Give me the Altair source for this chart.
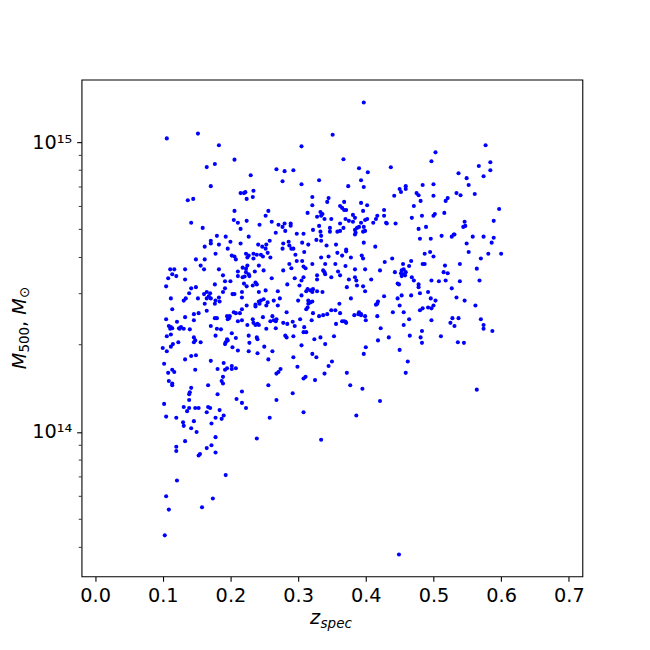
import altair as alt
import pandas as pd

# (z_spec, M500 in units of 1e14 solar masses)
pts_top_a = [(0.106,10.3),(0.152,10.7),(0.183,9.75),(0.206,8.7),(0.177,8.4),(0.165,8.2),(0.171,7.05),(0.215,6.67),(0.220,6.67),(0.137,6.3),(0.145,6.37),(0.206,5.79),(0.205,5.39),(0.211,5.27),(0.215,5.02),(0.142,5.27),(0.159,5.06),(0.180,4.75),(0.193,4.72),(0.171,4.57),(0.171,4.47),(0.200,4.53),(0.215,4.47),(0.162,4.36),(0.183,4.43),(0.196,4.29)]
pts_top_b = [(0.351,10.6),(0.305,9.67),(0.230,7.69),(0.268,8.06),(0.280,7.94),(0.293,8.0),(0.277,7.33),(0.331,7.39),(0.305,7.16),(0.222,6.72),(0.234,6.8),(0.224,6.37),(0.233,6.47),(0.321,6.47),(0.345,6.41),(0.343,6.22),(0.321,6.06),(0.256,5.79),(0.252,5.57),(0.314,5.7),(0.333,5.74),(0.328,5.53),(0.334,5.57),(0.339,5.43),(0.336,5.65),(0.349,5.43),(0.224,5.35),(0.261,5.31),(0.243,5.19),(0.271,5.19),(0.277,5.1),(0.280,5.24),(0.289,5.24),(0.289,5.15),(0.281,4.94),(0.267,4.87),(0.298,4.83),(0.308,4.83),(0.322,4.98),(0.331,5.14),(0.347,5.06),(0.347,4.91),(0.333,4.91),(0.334,4.75),(0.227,4.72),(0.334,4.57),(0.327,4.6),(0.286,4.53),(0.278,4.47),(0.287,4.4),(0.306,4.5),(0.315,4.43),(0.258,4.57),(0.253,4.43),(0.247,4.36),(0.241,4.43),(0.342,4.4),(0.252,4.29),(0.277,4.29),(0.290,4.29),(0.293,4.29)]
pts_top_c = [(0.397,13.7),(0.367,8.73),(0.437,8.19),(0.390,8.13),(0.403,7.87),(0.393,7.39),(0.374,7.05),(0.397,7.0),(0.442,6.53),(0.450,6.89),(0.452,6.73),(0.459,7.05),(0.459,6.89),(0.475,6.67),(0.478,6.56),(0.481,6.27),(0.484,7.11),(0.471,6.02),(0.368,6.22),(0.393,6.17),(0.402,6.06),(0.362,6.02),(0.365,5.93),(0.368,5.83),(0.371,5.83),(0.396,5.79),(0.427,5.83),(0.427,5.57),(0.417,5.57),(0.415,5.43),(0.381,5.61),(0.384,5.48),(0.402,5.43),(0.399,5.39),(0.370,5.43),(0.375,5.35),(0.381,5.31),(0.393,5.27),(0.390,5.1),(0.387,5.06),(0.384,4.98),(0.385,4.87),(0.384,4.8),(0.397,5.1),(0.399,4.94),(0.396,4.91),(0.411,5.27),(0.430,5.27),(0.431,5.24),(0.444,5.24),(0.468,5.48),(0.483,5.57),(0.362,5.24),(0.367,5.06),(0.362,4.94),(0.358,4.91),(0.478,5.02),(0.480,4.64),(0.356,4.43),(0.397,4.5),(0.414,4.36),(0.371,4.26)]
pts_top_d = [(0.577,9.75),(0.503,9.22),(0.497,8.59),(0.584,8.52),(0.567,8.27),(0.584,8.0),(0.574,7.63),(0.537,7.81),(0.549,7.51),(0.552,7.11),(0.500,7.16),(0.500,6.53),(0.534,6.67),(0.540,6.56),(0.561,6.62),(0.521,6.41),(0.518,6.27),(0.597,5.88),(0.516,5.7),(0.502,5.65),(0.500,5.57),(0.589,5.35),(0.546,5.31),(0.547,5.14),(0.544,5.1),(0.489,5.1),(0.496,4.64),(0.512,4.75),(0.527,4.72),(0.530,4.8),(0.531,4.8),(0.558,4.72),(0.574,4.72),(0.589,4.68),(0.586,4.5),(0.549,4.47),(0.495,4.18),(0.552,4.18)]
pts_mid_a = [(0.178,4.12),(0.202,4.06),(0.206,4.03),(0.208,3.94),(0.149,3.94),(0.162,3.94),(0.156,3.75),(0.161,3.64),(0.111,3.64),(0.117,3.64),(0.133,3.64),(0.183,3.64),(0.218,3.69),(0.114,3.50),(0.120,3.45),(0.108,3.39),(0.189,3.47),(0.211,3.58),(0.211,3.45),(0.133,3.36),(0.192,3.31),(0.200,3.31),(0.177,3.23),(0.218,3.42),(0.220,3.25),(0.105,3.18),(0.142,3.13),(0.149,3.16),(0.192,3.13),(0.189,3.04),(0.139,3.01),(0.134,2.89),(0.131,2.84),(0.152,2.89),(0.161,2.99),(0.165,3.04),(0.170,3.01),(0.168,2.94),(0.165,2.89),(0.171,2.89),(0.183,2.91),(0.178,2.84),(0.177,2.77),(0.184,2.82),(0.203,2.99),(0.206,2.99),(0.217,3.04),(0.217,2.91),(0.112,2.89),(0.162,2.77),(0.114,2.65),(0.217,2.65),(0.214,2.57),(0.205,2.59),(0.208,2.57),(0.146,2.55),(0.153,2.57),(0.165,2.62),(0.105,2.45),(0.133,2.49),(0.146,2.43),(0.177,2.47),(0.180,2.47),(0.195,2.51),(0.199,2.51),(0.196,2.45),(0.198,2.47),(0.217,2.43),(0.211,2.41),(0.121,2.40),(0.109,2.32),(0.112,2.30),(0.111,2.27),(0.114,2.28),(0.124,2.28),(0.127,2.30),(0.125,2.27),(0.131,2.27),(0.140,2.26),(0.171,2.32),(0.180,2.27),(0.186,2.26),(0.202,2.19),(0.106,2.14),(0.112,2.17),(0.146,2.12),(0.146,2.04),(0.148,2.07),(0.178,2.15),(0.196,2.07),(0.193,2.04),(0.192,2.01),(0.195,2.09),(0.208,2.11),(0.123,2.04),(0.115,2.01),(0.112,1.97),(0.156,2.04),(0.100,1.95),(0.106,1.90),(0.203,1.96),(0.211,1.91),(0.142,1.83),(0.149,1.84),(0.133,1.78),(0.102,1.72),(0.171,1.76),(0.190,1.73),(0.181,1.65),(0.192,1.64),(0.195,1.66),(0.202,1.69),(0.202,1.65),(0.208,1.66),(0.114,1.64),(0.117,1.61),(0.108,1.60),(0.148,1.64),(0.189,1.55),(0.109,1.50),(0.114,1.45),(0.114,1.47),(0.187,1.50),(0.189,1.47),(0.167,1.45),(0.142,1.42),(0.140,1.37),(0.139,1.35),(0.139,1.29),(0.181,1.35),(0.217,1.38),(0.209,1.30),(0.217,1.26),(0.102,1.25),(0.131,1.22),(0.139,1.21),(0.148,1.21),(0.153,1.21),(0.167,1.22),(0.170,1.21)]
pts_mid_b = [(0.223,4.12),(0.227,4.06),(0.225,4.00),(0.234,4.12),(0.239,4.09),(0.245,4.09),(0.248,4.03),(0.255,4.15),(0.259,4.00),(0.234,3.97),(0.296,4.09),(0.309,4.18),(0.334,4.00),(0.345,4.03),(0.225,3.75),(0.223,3.66),(0.223,3.56),(0.227,3.50),(0.228,3.45),(0.221,3.44),(0.242,3.75),(0.236,3.58),(0.249,3.61),(0.287,3.80),(0.298,3.89),(0.306,3.89),(0.308,3.72),(0.311,3.67),(0.321,3.80),(0.278,3.61),(0.290,3.67),(0.340,3.80),(0.339,3.56),(0.337,3.61),(0.340,3.50),(0.349,3.42),(0.328,3.47),(0.328,3.36),(0.261,3.39),(0.295,3.39),(0.305,3.33),(0.308,3.42),(0.224,3.18),(0.233,3.20),(0.237,3.28),(0.239,3.23),(0.284,3.23),(0.302,3.20),(0.242,3.04),(0.252,3.08),(0.270,3.06),(0.314,3.11),(0.312,3.06),(0.318,3.08),(0.322,3.11),(0.321,3.04),(0.328,3.06),(0.336,3.04),(0.305,2.96),(0.300,2.84),(0.315,2.84),(0.318,2.80),(0.315,2.77),(0.321,2.82),(0.242,2.82),(0.245,2.84),(0.249,2.87),(0.243,2.77),(0.237,2.75),(0.237,2.71),(0.255,2.80),(0.253,2.73),(0.264,2.84),(0.273,2.89),(0.224,2.73),(0.270,2.73),(0.312,2.65),(0.314,2.69),(0.283,2.59),(0.322,2.57),(0.331,2.51),(0.337,2.53),(0.343,2.55),(0.349,2.63),(0.248,2.49),(0.262,2.51),(0.259,2.41),(0.264,2.43),(0.268,2.45),(0.267,2.41),(0.233,2.45),(0.234,2.38),(0.240,2.36),(0.237,2.34),(0.242,2.34),(0.225,2.34),(0.278,2.38),(0.284,2.36),(0.292,2.40),(0.295,2.32),(0.303,2.45),(0.320,2.43),(0.253,2.27),(0.267,2.28),(0.309,2.30),(0.308,2.21),(0.312,2.21),(0.227,2.15),(0.239,2.12),(0.240,2.09),(0.228,2.03),(0.227,1.90),(0.240,1.87),(0.281,2.15),(0.283,2.12),(0.293,2.14),(0.324,2.09),(0.333,2.12),(0.340,2.01),(0.305,1.99),(0.250,1.97),(0.262,1.90),(0.293,1.81),(0.321,1.86),(0.327,1.81),(0.256,1.78),(0.299,1.68),(0.350,1.75),(0.345,1.69),(0.274,1.65),(0.271,1.61),(0.268,1.59),(0.339,1.59),(0.311,1.55),(0.308,1.53),(0.325,1.51),(0.256,1.45),(0.292,1.36),(0.268,1.29),(0.223,1.21)]
pts_mid_c = [(0.358,4.15),(0.365,4.06),(0.371,4.20),(0.378,4.00),(0.394,4.06),(0.396,3.97),(0.439,3.97),(0.428,3.86),(0.467,3.89),(0.464,3.74),(0.455,3.80),(0.484,3.80),(0.355,3.80),(0.370,3.74),(0.384,3.64),(0.399,3.64),(0.421,3.61),(0.443,3.56),(0.453,3.61),(0.456,3.64),(0.452,3.53),(0.455,3.50),(0.458,3.47),(0.453,3.45),(0.459,3.56),(0.359,3.58),(0.362,3.47),(0.384,3.42),(0.386,3.33),(0.375,3.36),(0.408,3.36),(0.468,3.42),(0.471,3.33),(0.478,3.23),(0.478,3.16),(0.480,3.01),(0.447,3.25),(0.449,3.23),(0.387,3.20),(0.396,3.18),(0.372,3.16),(0.399,3.06),(0.467,2.96),(0.453,2.96),(0.447,2.89),(0.427,2.94),(0.378,2.89),(0.418,2.82),(0.417,2.77),(0.415,2.75),(0.361,2.77),(0.450,2.73),(0.484,2.67),(0.480,2.63),(0.355,2.63),(0.362,2.57),(0.440,2.59),(0.456,2.59),(0.390,2.59),(0.393,2.55),(0.389,2.55),(0.383,2.53),(0.399,2.51),(0.400,2.43),(0.393,2.53),(0.417,2.51),(0.464,2.45),(0.365,2.41),(0.368,2.41),(0.371,2.38),(0.370,2.40),(0.356,2.36),(0.456,2.34),(0.422,2.28),(0.483,2.23),(0.465,2.15),(0.434,2.12),(0.418,2.07),(0.481,2.12),(0.483,2.03),(0.353,2.14),(0.400,1.96),(0.397,1.86),(0.450,1.92),(0.462,1.75),(0.372,1.60),(0.459,1.60),(0.377,1.45),(0.395,1.41),(0.421,1.28)]
pts_mid_d = [(0.487,4.12),(0.500,4.03),(0.570,3.97),(0.581,4.12),(0.600,4.12),(0.564,3.66),(0.487,3.80),(0.517,3.75),(0.539,3.80),(0.515,3.56),(0.521,3.53),(0.497,3.33),(0.508,3.31),(0.518,3.33),(0.539,3.31),(0.568,3.33),(0.527,3.13),(0.492,3.04),(0.534,2.91),(0.546,2.84),(0.496,2.89),(0.503,2.84),(0.500,2.73),(0.497,2.67),(0.492,2.69),(0.562,2.73),(0.497,2.43),(0.528,2.47),(0.537,2.47),(0.525,2.38),(0.531,2.32),(0.570,2.45),(0.574,2.34),(0.574,2.27),(0.587,2.23),(0.511,2.14),(0.536,2.04),(0.545,2.03),(0.564,1.40)]
pts_low = [(0.105,1.13),(0.120,1.12),(0.136,1.18),(0.165,1.17),(0.184,1.19),(0.190,1.14),(0.178,1.12),(0.187,1.11),(0.130,1.08),(0.131,1.05),(0.146,1.09),(0.172,1.07),(0.142,1.03),(0.150,1.00),(0.178,0.96),(0.133,0.93),(0.120,0.89),(0.120,0.86),(0.172,0.90),(0.165,0.88),(0.178,0.85),(0.155,0.84),(0.153,0.83),(0.193,0.71),(0.121,0.68),(0.105,0.60),(0.174,0.59),(0.109,0.54),(0.158,0.55),(0.103,0.44),(0.258,1.12),(0.308,1.17),(0.239,0.95),(0.334,0.94),(0.386,1.14),(0.449,0.378)]

x_ticks = [0.0, 0.1, 0.2, 0.3, 0.4, 0.5, 0.6, 0.7]
y_major = [1e14, 1e15]
y_minor = [4e13, 5e13, 6e13, 7e13, 8e13, 9e13, 2e14, 3e14, 4e14, 5e14, 6e14, 7e14, 8e14, 9e14]

all_pts = pts_top_a + pts_top_b + pts_top_c + pts_top_d + pts_mid_a + pts_mid_b + pts_mid_c + pts_mid_d + pts_low
df = pd.DataFrame(all_pts, columns=["z", "m"])
df["M"] = df["m"] * 1e14

FONT = "DejaVu Sans"
xscale = alt.Scale(domain=[-0.02, 0.72], nice=False, zero=False)
yscale = alt.Scale(type="log", domain=[3.176e13, 1.644e15], nice=False)
yaxis = alt.Axis(values=y_major, title=None,
                 labelExpr="datum.value > 5e14 ? '10¹⁵' : '10¹⁴'")

points = alt.Chart(df).mark_circle(size=17, color="#0000ff", opacity=1).encode(
    x=alt.X("z:Q", scale=xscale,
            axis=alt.Axis(values=x_ticks, format=".1f", title=None)),
    y=alt.Y("M:Q", scale=yscale, axis=yaxis),
)

minor = alt.Chart(pd.DataFrame({"v": y_minor})).mark_rule(color="black", strokeWidth=0.8).encode(
    y=alt.Y("v:Q", scale=yscale, axis=yaxis),
    x=alt.value(-2.8),
    x2=alt.value(0),
)


def txt(s, x, y, size, italic, angle=0):
    return alt.Chart(pd.DataFrame({"t": [s]})).mark_text(
        align="left", baseline="alphabetic", font=FONT, fontSize=size,
        fontStyle="italic" if italic else "normal", angle=angle, color="black"
    ).encode(text="t:N", x=alt.value(x), y=alt.value(y))


titles = [
    txt("z", 230, 548, 19.4, True),
    txt("spec", 240.5, 551.5, 13.6, True),
    txt("M", -56, 291.5, 19.4, True, 270),
    txt("500", -52.5, 274.8, 13.6, False, 270),
    txt(",", -56, 248.9, 19.4, False, 270),
    txt("M", -56, 236.6, 19.4, True, 270),
    txt("⊙", -52.5, 219.9, 13.6, False, 270),
]

chart = alt.layer(points, minor, *titles).properties(
    width=504, height=500,
    autosize=alt.AutoSizeParams(type="none"),
    padding={"left": 74, "top": 70, "right": 60, "bottom": 60},
    background="white",
).configure_view(
    stroke="black", strokeWidth=1.1
).configure_axis(
    grid=False, domain=False, tickColor="black", tickSize=4.9, tickWidth=1.1,
    labelFont=FONT, labelFontSize=19.4, labelColor="black", labelPadding=4.9,
)

chart.save("out.html", embed_options={"renderer": "svg", "actions": False})
